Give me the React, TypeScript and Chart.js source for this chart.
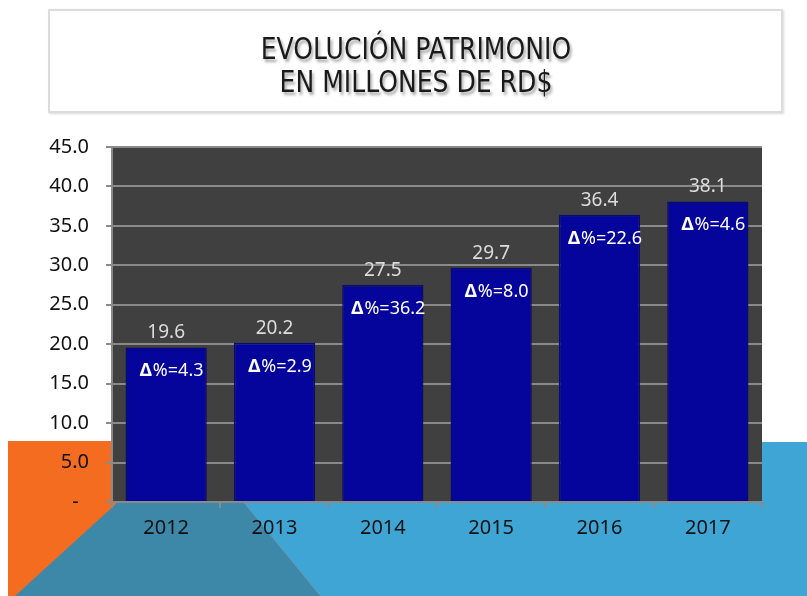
import React, { useEffect, useRef } from "react";
import { Chart, registerables } from "chart.js";

Chart.register(...registerables);

const years = ["2012", "2013", "2014", "2015", "2016", "2017"];
const patrimonio = [19.6, 20.2, 27.5, 29.7, 36.4, 38.1];
const variacion = ["4.3", "2.9", "36.2", "8.0", "22.6", "4.6"];
const yTicks = [0, 5, 10, 15, 20, 25, 30, 35, 40, 45];

const FONT = "'Noto Sans', 'Open Sans', sans-serif";

const decorPlugin = {
  id: "decor",
  beforeDraw(chart: any) {
    const { ctx, chartArea } = chart;
    ctx.save();
    ctx.fillStyle = "#ffffff";
    ctx.fillRect(0, 0, chart.width, chart.height);
    // orange block
    ctx.fillStyle = "#f46c1f";
    ctx.fillRect(8, 441, 440, 155);
    // light blue block
    ctx.fillStyle = "#3ea5d5";
    ctx.fillRect(440, 442, 367, 154);
    ctx.beginPath();
    ctx.moveTo(243, 502);
    ctx.lineTo(440, 502);
    ctx.lineTo(440, 596);
    ctx.lineTo(320, 596);
    ctx.closePath();
    ctx.fill();
    // teal overlap
    ctx.fillStyle = "#3d88a8";
    ctx.beginPath();
    ctx.moveTo(118, 502);
    ctx.lineTo(243, 502);
    ctx.lineTo(320, 596);
    ctx.lineTo(15, 596);
    ctx.closePath();
    ctx.fill();
    // plot background
    ctx.fillStyle = "#404040";
    ctx.fillRect(chartArea.left, chartArea.top, chartArea.right - chartArea.left, chartArea.bottom - chartArea.top);
    ctx.restore();
  },
};

const labelPlugin = {
  id: "barLabels",
  afterDatasetsDraw(chart: any) {
    const { ctx } = chart;
    const meta = chart.getDatasetMeta(0);
    ctx.save();
    meta.data.forEach((bar: any, i: number) => {
      const x = bar.x;
      const top = bar.y;
      // value label above bar
      ctx.font = `19px ${FONT}`;
      ctx.fillStyle = "#dcdcdc";
      ctx.textAlign = "center";
      ctx.textBaseline = "alphabetic";
      ctx.fillText(patrimonio[i].toFixed(1), x, top - 9);
      // delta label inside bar
      const boldPart = "Δ";
      const rest = "%=" + variacion[i];
      ctx.font = `bold 18px ${FONT}`;
      const w1 = ctx.measureText(boldPart).width;
      ctx.font = `18px ${FONT}`;
      const w2 = ctx.measureText(rest).width;
      const start = x - (w1 + w2) / 2 + 5;
      ctx.textAlign = "left";
      ctx.fillStyle = "#ffffff";
      ctx.font = `bold 18px ${FONT}`;
      ctx.fillText(boldPart, start, top + 29);
      ctx.font = `18px ${FONT}`;
      ctx.fillText(rest, start + w1 + 1, top + 29);
    });
    ctx.restore();
  },
};

function BarChart() {
  const ref = useRef<HTMLCanvasElement | null>(null);
  useEffect(() => {
    if (!ref.current) return;
    const chart = new Chart(ref.current, {
      type: "bar",
      data: {
        labels: years,
        datasets: [
          {
            data: patrimonio,
            backgroundColor: "#05059b",
            borderColor: "#0b0b6c",
            borderWidth: 1.5,
            barPercentage: 0.75,
            categoryPercentage: 1,
          },
        ],
      },
      options: {
        responsive: false,
        animation: false,
        layout: { padding: { top: 147, right: 45, left: 0, bottom: 0 } },
        plugins: {
          legend: { display: false },
          tooltip: { enabled: false },
        },
        scales: {
          x: {
            offset: true,
            grid: {
              display: true,
              drawOnChartArea: false,
              drawTicks: true,
              tickLength: 6,
              color: "#8a8a8a",
              lineWidth: 2,
              offset: true,
            },
            border: { display: true, color: "#8a8a8a", width: 2 },
            ticks: {
              color: "#111111",
              font: { family: FONT, size: 20 },
              padding: 8,
            },
            afterFit(scale: any) {
              scale.height = 596 - 502;
            },
          },
          y: {
            min: 0,
            max: 45,
            afterBuildTicks(scale: any) {
              scale.ticks = yTicks.map((v) => ({ value: v }));
            },
            grid: {
              color: "#8a8a8a",
              lineWidth: 2,
              tickLength: 6,
              drawTicks: true,
            },
            border: { display: true, color: "#8a8a8a", width: 2 },
            ticks: {
              color: "#111111",
              font: { family: FONT, size: 20 },
              padding: 17,
              callback: (v: any) => (Number(v) === 0 ? "-  " : Number(v).toFixed(1)),
            },
            afterFit(scale: any) {
              scale.width = 112;
            },
          },
        },
      },
      plugins: [decorPlugin, labelPlugin],
    });
    return () => chart.destroy();
  }, []);
  return <canvas ref={ref} width={807} height={596} style={{ display: "block" }} />;
}

export default function App() {
  return (
    <div style={{ position: "absolute", left: 0, top: 0, width: 807, height: 596, overflow: "hidden" }}>
      <BarChart />
      <div
        style={{
          position: "absolute",
          left: 48,
          top: 9,
          width: 735,
          height: 104,
          boxSizing: "border-box",
          border: "2px solid #dcdcdc",
          boxShadow: "1px 1px 2px rgba(0,0,0,0.15)",
          background: "#ffffff",
          textAlign: "center",
          paddingTop: 21,
          fontFamily: "'Liberation Sans Narrow', 'DejaVu Sans Condensed', 'Liberation Sans', sans-serif",
          fontSize: 30,
          lineHeight: "33px",
          color: "#1a1a1a",
          textShadow: "2px 3px 3px rgba(0,0,0,0.35)",
        }}
      >
        <div style={{ display: "inline-block", transform: "scaleX(0.93)", transformOrigin: "center" }}>
          EVOLUCIÓN PATRIMONIO
          <br />
          EN MILLONES DE RD$
        </div>
      </div>
    </div>
  );
}
